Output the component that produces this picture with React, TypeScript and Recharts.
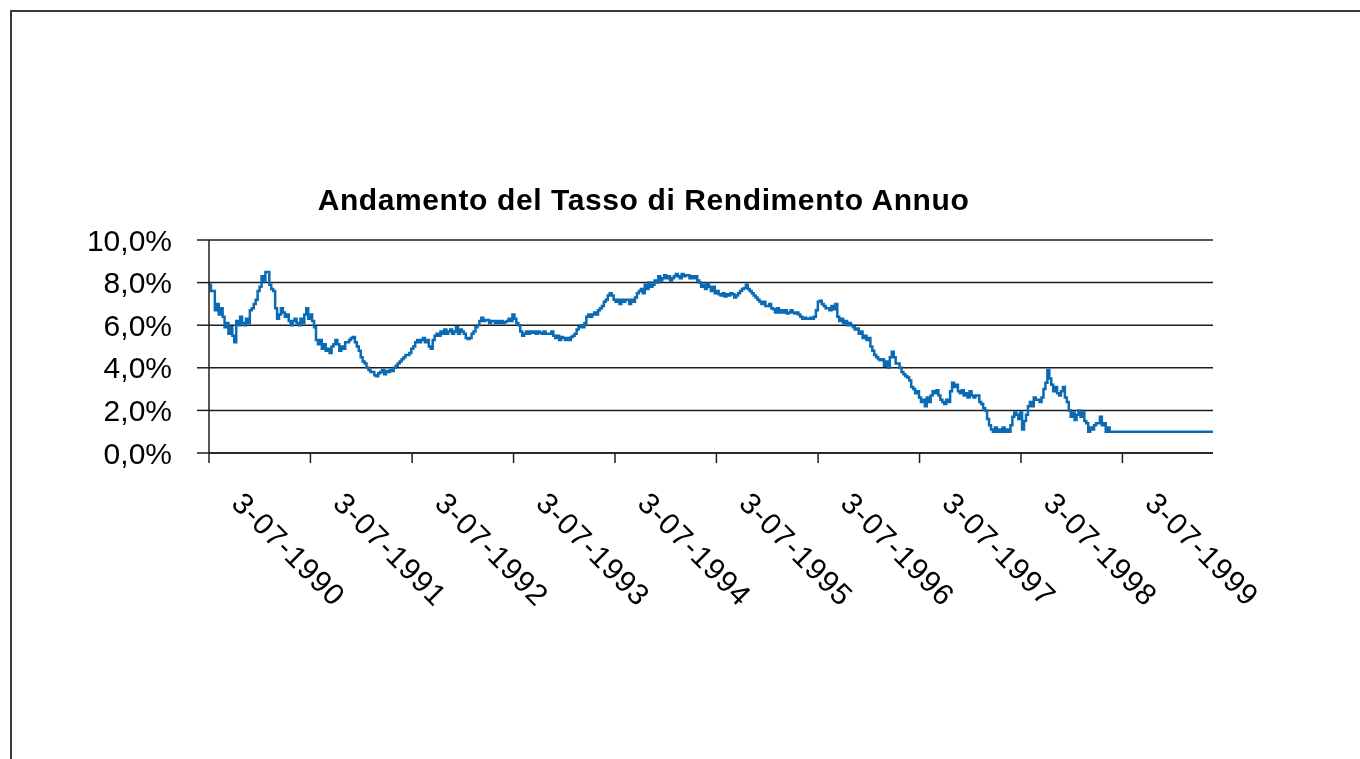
import React from "react";
import { LineChart, Line, XAxis, YAxis, CartesianGrid } from "recharts";

const FONT = '"Liberation Sans", Arial, Helvetica, sans-serif';

const chartTitle = "Andamento del Tasso di Rendimento Annuo";

// weekly series, first observation on 3-07-1990 (values in %)
const startDate = "1990-07-03";
const weeklyRates: number[] = [
  7.9, 7.6, 7.6, 6.7, 7.0, 6.5, 6.8, 6.4, 5.9, 6.1,
  5.6, 5.9, 5.5, 5.2, 6.2, 6.0, 6.4, 6.1, 6.0, 6.3,
  6.1, 6.7, 6.8, 7.0, 7.2, 7.6, 7.8, 8.3, 8.1, 8.5, 8.5,
  7.9, 7.7, 7.6, 6.8, 6.3, 6.5, 6.8, 6.6, 6.4, 6.5,
  6.2, 6.0, 6.2, 6.3, 6.1, 6.0, 6.3, 6.1, 6.5, 6.8,
  6.3, 6.5, 6.2, 5.9, 5.3, 5.1, 5.3, 4.9, 5.1, 4.8,
  4.9, 4.7, 5.0, 5.1, 5.3, 5.1, 4.8, 5.0, 4.9, 5.2, 5.2,
  5.3, 5.4, 5.45, 5.2, 5.0, 4.8, 4.5, 4.3, 4.2, 4.0,
  3.9, 3.8, 3.8, 3.65, 3.6, 3.75, 3.8, 3.9, 3.7, 3.85,
  3.8, 3.9, 3.85, 4.0, 4.1, 4.2, 4.3, 4.4, 4.5, 4.6, 4.6,
  4.7, 4.9, 5.0, 5.2, 5.3, 5.2, 5.3, 5.4, 5.2, 5.3,
  5.0, 4.9, 5.3, 5.5, 5.6, 5.5, 5.7, 5.6, 5.8, 5.6,
  5.7, 5.8, 5.6, 5.7, 5.9, 5.6, 5.8, 5.7, 5.6, 5.4,
  5.35, 5.4, 5.6, 5.7, 5.9, 6.0, 6.2, 6.35, 6.2, 6.25, 6.25,
  6.1, 6.2, 6.2, 6.1, 6.2, 6.1, 6.2, 6.1, 6.15, 6.2,
  6.3, 6.2, 6.5, 6.3, 6.1, 6.0, 5.7, 5.5, 5.6, 5.7,
  5.6, 5.7, 5.65, 5.7, 5.6, 5.7, 5.65, 5.6, 5.7, 5.6, 5.6,
  5.6, 5.7, 5.5, 5.4, 5.5, 5.3, 5.45, 5.4, 5.3, 5.4,
  5.3, 5.45, 5.5, 5.6, 5.8, 5.9, 6.0, 5.9, 6.1, 6.4,
  6.5, 6.4, 6.5, 6.6, 6.5, 6.7, 6.8, 6.9, 7.1, 7.2,
  7.4, 7.5, 7.4, 7.2, 7.1, 7.2, 7.0, 7.2, 7.1, 7.2, 7.2,
  7.0, 7.2, 7.1, 7.3, 7.5, 7.6, 7.7, 7.5, 7.9, 7.7,
  8.0, 7.8, 7.9, 8.1, 8.0, 8.3, 8.1, 8.2, 8.35, 8.2,
  8.3, 8.1, 8.2, 8.3, 8.4, 8.3, 8.2, 8.4, 8.3, 8.35, 8.35,
  8.2, 8.3, 8.2, 8.3, 8.1, 8.0, 7.8, 7.9, 7.7, 7.95,
  7.8, 7.6, 7.8, 7.5, 7.6, 7.45, 7.4, 7.5, 7.35, 7.45,
  7.4, 7.5, 7.45, 7.3, 7.4, 7.5, 7.6, 7.7, 7.75, 7.9,
  7.7, 7.6, 7.5, 7.4, 7.3, 7.2, 7.1, 7.0, 7.1, 6.9, 6.9,
  7.0, 6.8, 6.75, 6.6, 6.8, 6.6, 6.7, 6.6, 6.7, 6.55,
  6.6, 6.7, 6.6, 6.55, 6.6, 6.5, 6.4, 6.3, 6.35, 6.3,
  6.3, 6.35, 6.3, 6.4, 6.7, 7.1, 7.15, 7.0, 6.9, 6.8, 6.8,
  6.7, 6.9, 6.75, 7.0, 6.4,
  6.2, 6.3, 6.1, 6.2, 6.0, 6.1, 6.0, 5.9, 5.8, 5.85,
  5.6, 5.7, 5.4, 5.5, 5.3, 5.4, 5.0, 4.8, 4.6, 4.5,
  4.4, 4.35, 4.4, 4.1, 4.3, 4.0, 4.5, 4.75, 4.5, 4.2, 4.2,
  4.0, 3.8, 3.7, 3.6, 3.55, 3.4, 3.1, 3.0, 2.8, 2.9,
  2.6, 2.4, 2.5, 2.2, 2.6, 2.4, 2.7, 2.9, 2.8, 2.95,
  2.7, 2.5, 2.4, 2.3, 2.5, 2.4, 2.9, 3.3, 3.1, 3.2,
  2.9, 2.8, 2.95, 2.7, 2.8, 2.6, 2.9, 2.7, 2.6, 2.7, 2.7,
  2.4, 2.3, 2.1, 2.0, 1.6, 1.3, 1.1, 1.0, 1.2, 1.0,
  1.1, 1.0, 1.2, 1.0, 1.1, 1.0, 1.3, 1.7, 1.9, 1.8,
  1.6, 1.9, 1.1, 1.5, 1.8, 2.2, 2.4, 2.2, 2.6, 2.5, 2.5,
  2.4, 2.6, 3.0, 3.3, 3.9, 3.5, 3.2, 2.9, 3.1, 2.8,
  2.7, 2.9, 3.1, 2.6, 2.4, 2.0, 1.7, 1.9, 1.55, 1.8,
  2.0, 1.7, 1.9, 1.5, 1.4, 1.0, 1.2, 1.1, 1.3, 1.4, 1.4,
  1.7, 1.3, 1.4, 1.0, 1.2, 1.0, 1.0,
];
const lastDate = "2000-05-24";
const lastRate = 1.0;

const axisStart = "1990-07-03";
const axisEnd = "2000-05-24";
const tickDates = [
  "1990-07-03", "1991-07-03", "1992-07-03", "1993-07-03", "1994-07-03",
  "1995-07-03", "1996-07-03", "1997-07-03", "1998-07-03", "1999-07-03",
];
const tickLabels = [
  "3-07-1990", "3-07-1991", "3-07-1992", "3-07-1993", "3-07-1994",
  "3-07-1995", "3-07-1996", "3-07-1997", "3-07-1998", "3-07-1999",
];
const yTicks = [0, 2, 4, 6, 8, 10];

const DAY = 86400000;
const toTime = (s: string) => {
  const [y, m, d] = s.split("-").map(Number);
  return Date.UTC(y, m - 1, d);
};

const t0 = toTime(startDate);
const data = weeklyRates
  .map((rate, i) => ({ t: t0 + 7 * i * DAY, rate }))
  .concat([{ t: toTime(lastDate), rate: lastRate }]);

const tickTimes = tickDates.map(toTime);
const labelFor = (t: number) => {
  const i = tickTimes.indexOf(t);
  return i >= 0 ? tickLabels[i] : "";
};

const XTick = (props: any) => {
  const { x, y, payload } = props;
  const px = x + 21;
  const py = y + 42;
  return (
    <text
      x={px}
      y={py}
      transform={`rotate(45, ${px}, ${py})`}
      textAnchor="start"
      fontFamily={FONT}
      fontSize={30}
      letterSpacing={1}
      fill="#000"
    >
      {labelFor(payload.value)}
    </text>
  );
};

const fmtPct = (v: number) => v.toFixed(1).replace(".", ",") + "%";

export default function App() {
  return (
    <div style={{ position: "relative", width: 1344, height: 743, background: "#fff" }}>
      <div
        style={{
          position: "fixed",
          left: 10,
          top: 10,
          width: 2000,
          height: 2000,
          borderTop: "2px solid #3a3a3a",
          borderLeft: "2px solid #3a3a3a",
          pointerEvents: "none",
        }}
      />
      <LineChart
        width={1344}
        height={743}
        data={data}
        margin={{ top: 232, right: 139, left: 0, bottom: 238 }}
      >
        <CartesianGrid horizontal vertical={false} stroke="#1e1e1e" strokeWidth={1.5} />
        <XAxis
          dataKey="t"
          type="number"
          scale="linear"
          domain={[toTime(axisStart), toTime(axisEnd)]}
          ticks={tickTimes}
          interval={0}
          height={60}
          tickSize={10}
          tickMargin={0}
          axisLine={{ stroke: "#1e1e1e", strokeWidth: 1.5 }}
          tickLine={{ stroke: "#1e1e1e", strokeWidth: 1.5 }}
          tick={<XTick />}
          allowDataOverflow
        />
        <YAxis
          type="number"
          domain={[0, 10]}
          ticks={yTicks}
          width={201}
          tickSize={12}
          tickMargin={25}
          tickFormatter={fmtPct}
          axisLine={{ stroke: "#1e1e1e", strokeWidth: 1.5 }}
          tickLine={{ stroke: "#1e1e1e", strokeWidth: 1.5 }}
          tick={{ fontFamily: FONT, fontSize: 30, fill: "#000" }}
        />
        <Line
          type="stepAfter"
          dataKey="rate"
          stroke="#0a6ab4"
          strokeWidth={2.5}
          dot={false}
          isAnimationActive={false}
        />
      </LineChart>
      <svg
        width={1344}
        height={743}
        style={{ position: "absolute", left: 0, top: 0, pointerEvents: "none" }}
      >
        <text
          x={635.5}
          y={202}
          textAnchor="middle"
          fontFamily={FONT}
          fontSize={30}
          fontWeight="bold"
          letterSpacing={0.6}
          fill="#000"
        >
          {chartTitle}
        </text>
      </svg>
    </div>
  );
}
